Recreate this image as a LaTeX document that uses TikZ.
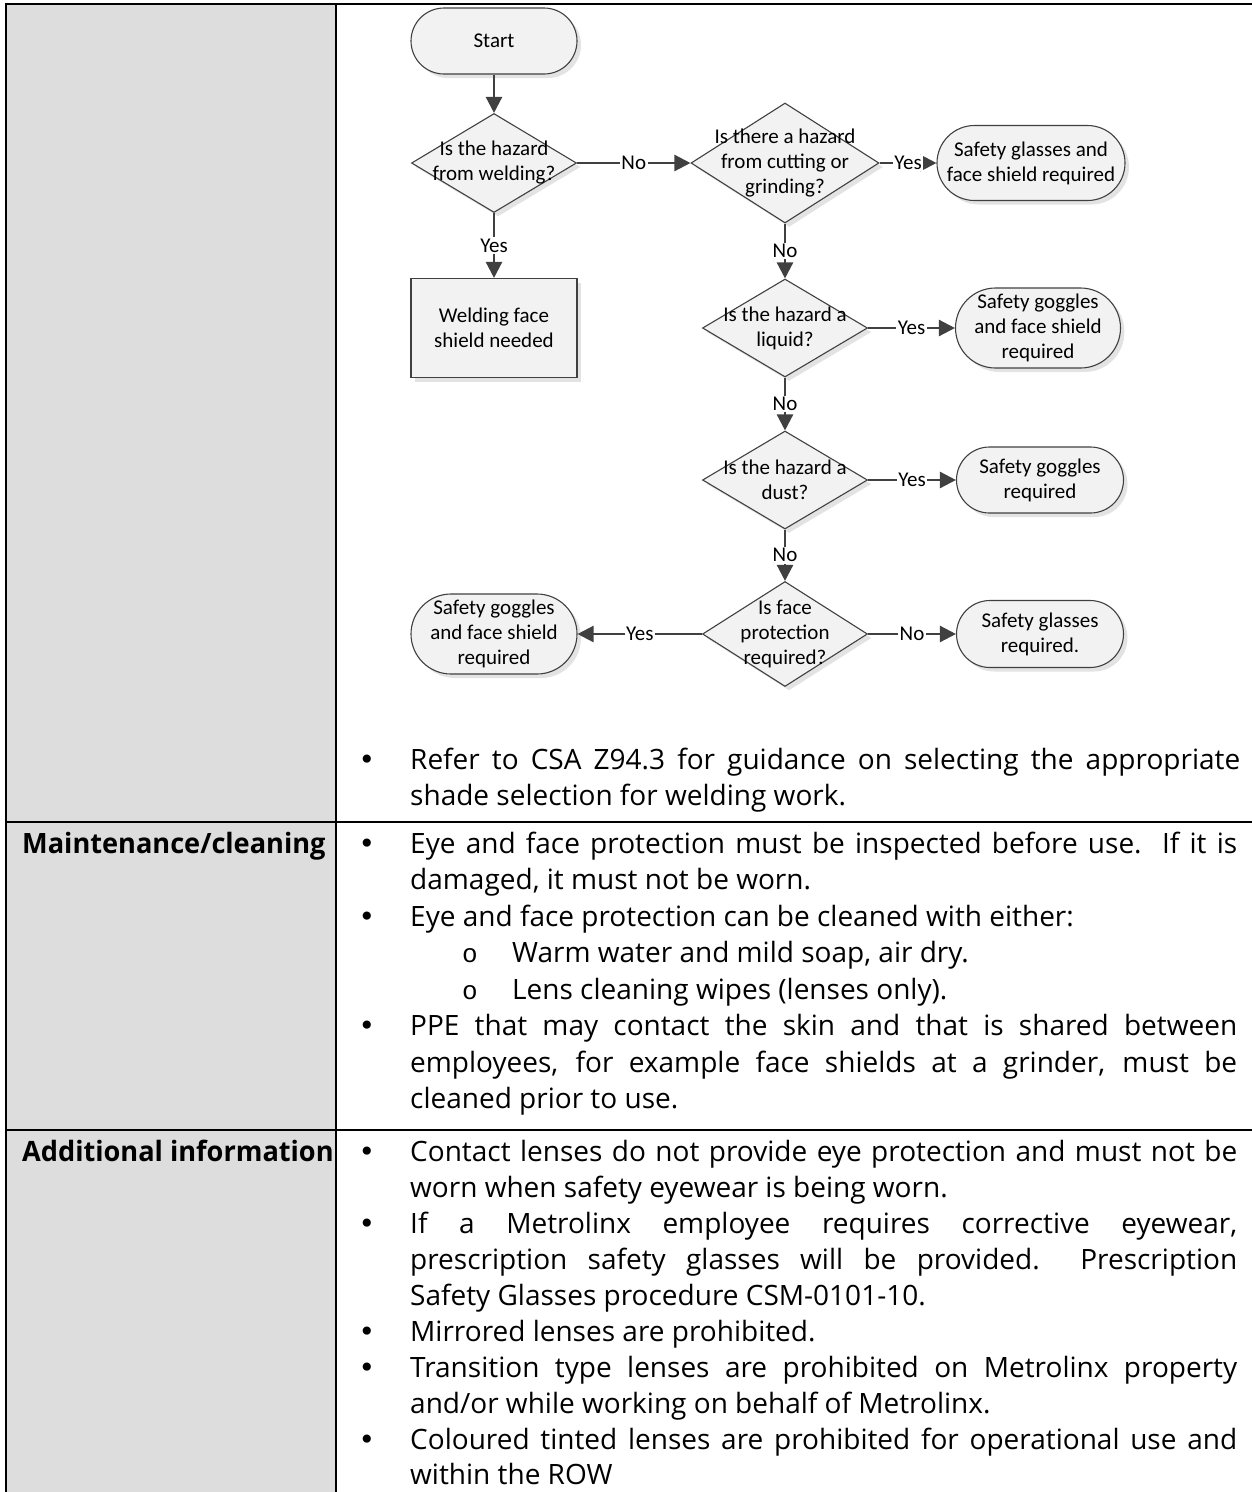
\documentclass[tikz,border=0pt]{standalone}
\usepackage{fontspec}
\setmainfont{Open Sans}
\newfontfamily\hfont{Open Sans}[FakeStretch=0.97]
\newfontfamily\cfont{Carlito}
\newfontfamily\dvfont{DejaVu Sans}
\newfontfamily\mfont{Liberation Mono}
\usetikzlibrary{shapes.geometric,arrows.meta,shadows}
\definecolor{cellgray}{HTML}{DDDDDD}
\definecolor{lnc}{HTML}{404040}
\definecolor{shapefill}{HTML}{F2F2F2}
\newcommand\fcfont{\cfont\fontsize{21}{25}\selectfont}
\newcommand\bodyfont{\fontsize{28}{36.5}\selectfont}
\newcommand\jl[1]{\makebox[827pt][s]{#1}}
\tikzset{
  fcshape/.style={draw=lnc, line width=1.1pt, fill=shapefill,
    drop shadow={shadow xshift=4pt, shadow yshift=-4pt, opacity=0.22}},
  term/.style={fcshape, rectangle, inner sep=0pt, align=center, font=\fcfont},
  proc/.style={fcshape, rectangle, inner sep=0pt, align=center, font=\fcfont},
  dia/.style={fcshape, diamond, inner sep=0pt},
  fctext/.style={align=center, font=\fcfont, inner sep=0pt},
  lbl/.style={fill=white, inner sep=1.5pt, font=\fcfont},
  conn/.style={draw=lnc, line width=2.4pt, -{Triangle[length=16pt,width=16pt]}},
  tl/.style={anchor=base west, inner sep=0pt, font=\bodyfont},
  hl/.style={anchor=base west, inner sep=0pt, font=\hfont\bfseries\fontsize{28}{36.5}\selectfont},
  bl/.style={anchor=base, inner sep=0pt, font=\dvfont\fontsize{28}{36.5}\selectfont},
  sl/.style={anchor=base, inner sep=0pt, font=\mfont\fontsize{26}{36.5}\selectfont},
}
\begin{document}
\begin{tikzpicture}[x=1pt,y=-1pt]
\useasboundingbox (0,0) rectangle (1252,1492);
% table
\fill[cellgray] (7,4) rectangle (336,1492);
\draw[line width=1.8pt] (336,4) -- (336,1492);
\draw[line width=1.8pt] (7,822) -- (1252,822);
\draw[line width=1.8pt] (7,1130) -- (1252,1130);
\draw[line width=2.6pt] (6,1492) -- (6,4) -- (1252,4);

% flowchart shapes
\node[term, rounded corners=33pt, minimum width=166pt, minimum height=66pt] (start) at (494,41) {Start};
\node[dia, minimum width=165pt, minimum height=99pt] (d1) at (494,163) {};
\node[fctext] (d1t) at (d1) {Is the hazard\\from welding?};
\node[proc, minimum width=166pt, minimum height=99pt] (weld) at (494,328) {Welding face\\shield needed};
\node[dia, minimum width=188pt, minimum height=120pt] (d2) at (785,163) {};
\node[fctext] (d2t) at (d2) {Is there a hazard\\from cutting or\\grinding?};
\node[term, rounded corners=37.5pt, minimum width=188pt, minimum height=75pt] (t1) at (1031,163) {Safety glasses and\\face shield required};
\node[dia, minimum width=165pt, minimum height=98pt] (d3) at (785,328) {};
\node[fctext] (d3t) at (d3) {Is the hazard a\\liquid?};
\node[term, rounded corners=40pt, minimum width=165pt, minimum height=80pt] (t2) at (1038,328) {Safety goggles\\and face shield\\required};
\node[dia, minimum width=165pt, minimum height=98pt] (d4) at (785,480) {};
\node[fctext] (d4t) at (d4) {Is the hazard a\\dust?};
\node[term, rounded corners=33pt, minimum width=167pt, minimum height=66pt] (t3) at (1040,480) {Safety goggles\\required};
\node[dia, minimum width=165pt, minimum height=105pt] (d5) at (785,634) {};
\node[fctext] (d5t) at (d5) {Is face\\protection\\required?};
\node[term, rounded corners=40pt, minimum width=166pt, minimum height=80pt] (t4) at (494,634) {Safety goggles\\and face shield\\required};
\node[term, rounded corners=33.5pt, minimum width=167pt, minimum height=67pt] (t5) at (1040,634) {Safety glasses\\required.};

% connectors
\draw[conn] (start) -- (d1);
\draw[conn] (d1) -- node[lbl] (la) {Yes} (weld);
\draw[conn] (d1) -- node[lbl] (lb) {No} (d2);
\draw[conn] (d2) -- node[lbl] (lc) {Yes} (t1);
\draw[conn] (d2) -- node[lbl] (ld) {No} (d3);
\draw[conn] (d3) -- node[lbl] (le) {Yes} (t2);
\draw[conn] (d3) -- node[lbl] (lf) {No} (d4);
\draw[conn] (d4) -- node[lbl] (lg) {Yes} (t3);
\draw[conn] (d4) -- node[lbl] (lh) {No} (d5);
\draw[conn] (d5) -- node[lbl] (li) {Yes} (t4);
\draw[conn] (d5) -- node[lbl] (lj) {No} (t5);

% row 1 text
\node[bl] (b1) at (367,769) {•};
\node[tl] (r1a) at (410,769) {\makebox[830pt][s]{Refer to CSA Z94.3 for guidance on selecting the appropriate}};
\node[tl] (r1b) at (410,805.5) {shade selection for welding work.};

% row 2
\node[hl] (h2) at (22,853) {Maintenance/cleaning};
\node[bl] (b2) at (367,853) {•};
\node[tl] (r2a) at (410,853) {\jl{Eye and face protection must be inspected before use.\ \ If it is}};
\node[tl] (r2b) at (410,889.5) {damaged, it must not be worn.};
\node[bl] (b3) at (367,926) {•};
\node[tl] (r2c) at (410,926) {Eye and face protection can be cleaned with either:};
\node[sl] (s1) at (470,962.5) {o};
\node[tl] (r2d) at (512,962.5) {Warm water and mild soap, air dry.};
\node[sl] (s2) at (470,999) {o};
\node[tl] (r2e) at (512,999) {Lens cleaning wipes (lenses only).};
\node[bl] (b4) at (367,1035.5) {•};
\node[tl] (r2f) at (410,1035.5) {\jl{PPE that may contact the skin and that is shared between}};
\node[tl] (r2g) at (410,1072) {\jl{employees, for example face shields at a grinder, must be}};
\node[tl] (r2h) at (410,1108.5) {cleaned prior to use.};

% row 3
\node[hl] (h3) at (22,1161) {Additional information};
\node[bl] (b5) at (367,1161) {•};
\node[tl] (r3a) at (410,1161) {\jl{Contact lenses do not provide eye protection and must not be}};
\node[tl] (r3b) at (410,1197) {worn when safety eyewear is being worn.};
\node[bl] (b6) at (367,1233) {•};
\node[tl] (r3c) at (410,1233) {\jl{If a Metrolinx employee requires corrective eyewear,}};
\node[tl] (r3d) at (410,1269) {\jl{prescription safety glasses will be provided.\ \ Prescription}};
\node[tl] (r3e) at (410,1305) {Safety Glasses procedure CSM-0101-10.};
\node[bl] (b7) at (367,1341) {•};
\node[tl] (r3f) at (410,1341) {Mirrored lenses are prohibited.};
\node[bl] (b8) at (367,1377) {•};
\node[tl] (r3g) at (410,1377) {\jl{Transition type lenses are prohibited on Metrolinx property}};
\node[tl] (r3h) at (410,1413) {and/or while working on behalf of Metrolinx.};
\node[bl] (b9) at (367,1449) {•};
\node[tl] (r3i) at (410,1449) {\jl{Coloured tinted lenses are prohibited for operational use and}};
\node[tl] (r3j) at (410,1484) {within the ROW};
\end{tikzpicture}
\end{document}
